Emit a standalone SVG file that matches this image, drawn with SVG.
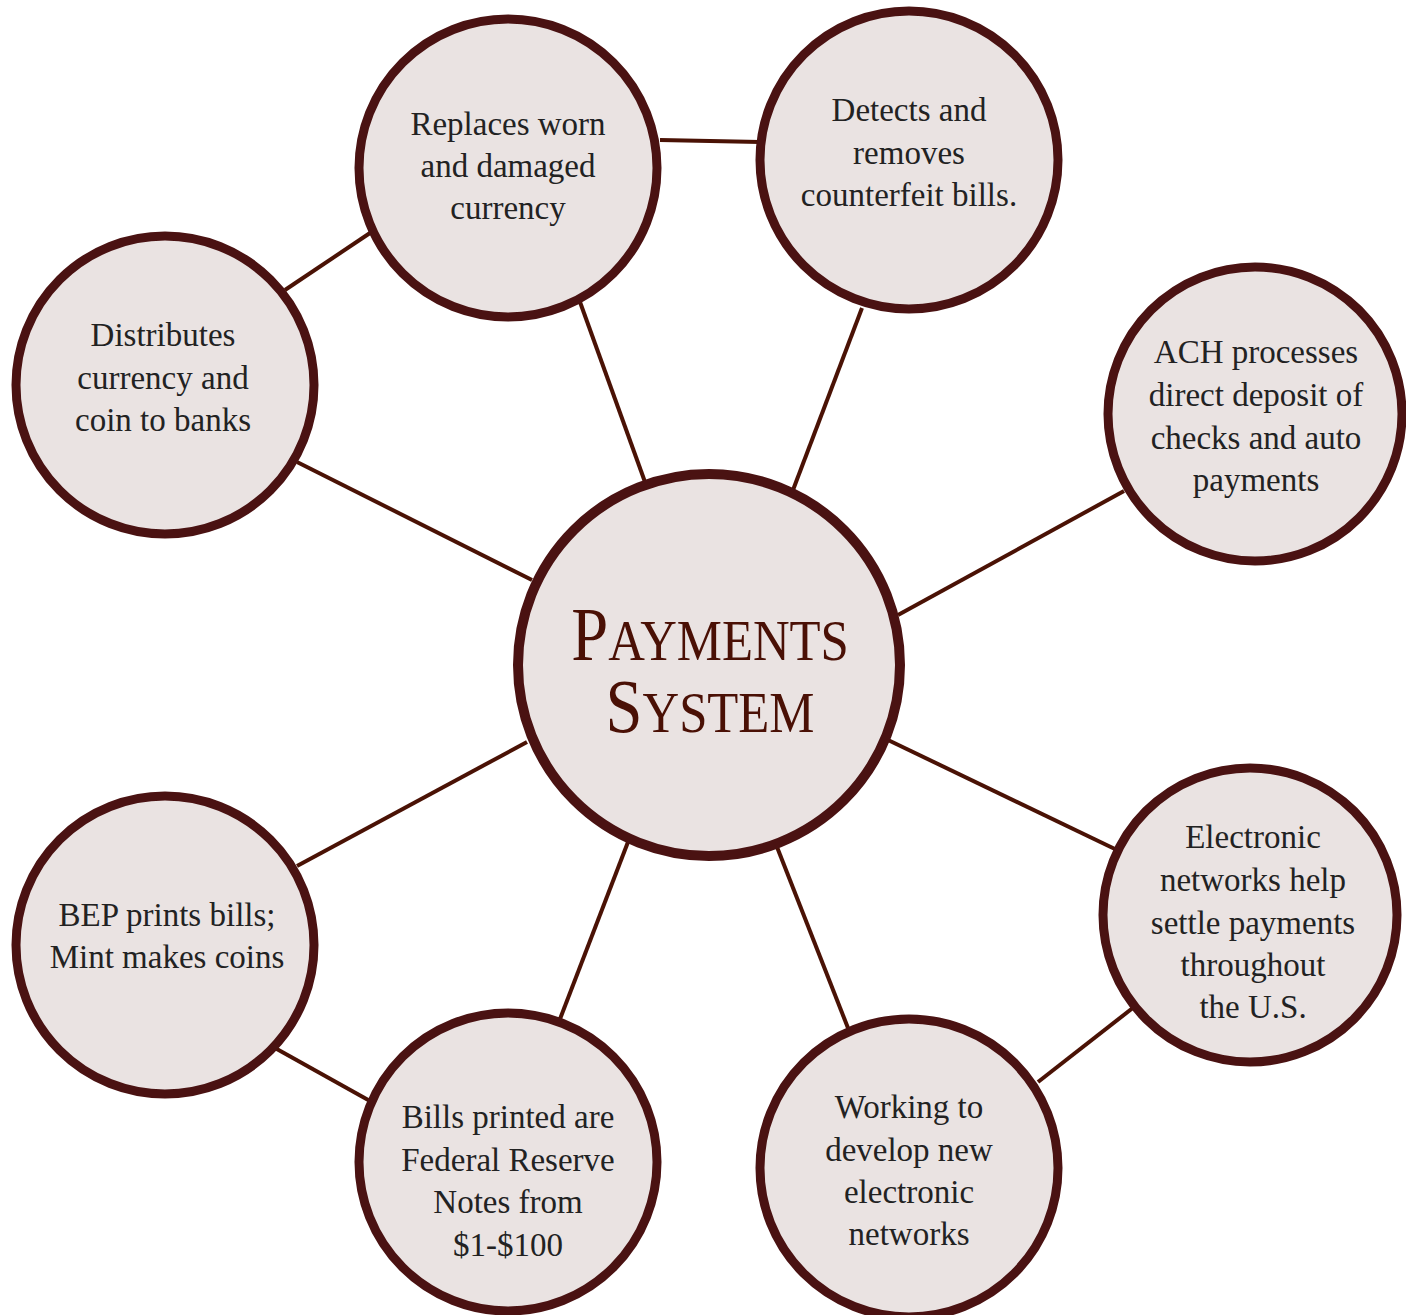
<svg xmlns="http://www.w3.org/2000/svg" width="1406" height="1315" viewBox="0 0 1406 1315">
<style>
.node{fill:#EAE3E2;stroke:#4A1212;stroke-width:9}
.hub{fill:#EAE3E2;stroke:#4A1212;stroke-width:10}
.conn line{stroke:#4A1205;stroke-width:4;stroke-linecap:butt}
.t{font-family:"Liberation Serif",serif;font-size:33px;fill:#222;text-anchor:middle}
.ttl{font-family:"Liberation Serif",serif;fill:#4A1005;text-anchor:middle}
</style>
<rect width="1406" height="1315" fill="#fff"/>
<g class="conn" id="connectors">
<line x1="660" y1="140" x2="760" y2="142"/>
<line x1="285" y1="290" x2="370" y2="233"/>
<line x1="275" y1="1048" x2="370" y2="1101"/>
<line x1="1038" y1="1082" x2="1134" y2="1007"/>
<line x1="645" y1="482" x2="580" y2="302"/>
<line x1="793" y1="490" x2="862" y2="308"/>
<line x1="532" y1="580" x2="297" y2="462"/>
<line x1="898" y1="615" x2="1124" y2="491"/>
<line x1="527" y1="742" x2="297" y2="866"/>
<line x1="628" y1="842" x2="560" y2="1019"/>
<line x1="777" y1="847" x2="848" y2="1028"/>
<line x1="888" y1="740" x2="1117" y2="850"/>
</g>
<g id="hub">
<circle class="hub" cx="709" cy="665" r="191"/>
<text class="ttl" transform="translate(710 0) scale(0.875 1)"><tspan x="0" y="660"><tspan font-size="76">P</tspan><tspan font-size="58">AYMENTS</tspan></tspan><tspan x="0" y="732"><tspan font-size="76">S</tspan><tspan font-size="58">YSTEM</tspan></tspan></text>
</g>
<g id="replaces">
<circle class="node" cx="508" cy="168" r="149"/>
<text class="t" x="508" y="135">Replaces worn</text>
<text class="t" x="508" y="177">and damaged</text>
<text class="t" x="508" y="219">currency</text>
</g>
<g id="detects">
<circle class="node" cx="909" cy="160" r="149"/>
<text class="t" x="909" y="121">Detects and</text>
<text class="t" x="909" y="164">removes</text>
<text class="t" x="909" y="206">counterfeit bills.</text>
</g>
<g id="distributes">
<circle class="node" cx="165" cy="385" r="149"/>
<text class="t" x="163" y="346">Distributes</text>
<text class="t" x="163" y="389">currency and</text>
<text class="t" x="163" y="431">coin to banks</text>
</g>
<g id="ach">
<circle class="node" cx="1255" cy="414" r="147"/>
<text class="t" x="1256" y="363">ACH processes</text>
<text class="t" x="1256" y="406">direct deposit of</text>
<text class="t" x="1256" y="449">checks and auto</text>
<text class="t" x="1256" y="491">payments</text>
</g>
<g id="electronic">
<circle class="node" cx="1250" cy="915" r="147"/>
<text class="t" x="1253" y="848">Electronic</text>
<text class="t" x="1253" y="891">networks help</text>
<text class="t" x="1253" y="934">settle payments</text>
<text class="t" x="1253" y="976">throughout</text>
<text class="t" x="1253" y="1018">the U.S.</text>
</g>
<g id="bep">
<circle class="node" cx="165" cy="945" r="149"/>
<text class="t" x="167" y="926">BEP prints bills;</text>
<text class="t" x="167" y="968">Mint makes coins</text>
</g>
<g id="bills">
<circle class="node" cx="508" cy="1162" r="149"/>
<text class="t" x="508" y="1128">Bills printed are</text>
<text class="t" x="508" y="1171">Federal Reserve</text>
<text class="t" x="508" y="1213">Notes from</text>
<text class="t" x="508" y="1256" font-size="26">$1-$100</text>
</g>
<g id="working">
<circle class="node" cx="909" cy="1168" r="149"/>
<text class="t" x="909" y="1118">Working to</text>
<text class="t" x="909" y="1161">develop new</text>
<text class="t" x="909" y="1203">electronic</text>
<text class="t" x="909" y="1245">networks</text>
</g>
</svg>
